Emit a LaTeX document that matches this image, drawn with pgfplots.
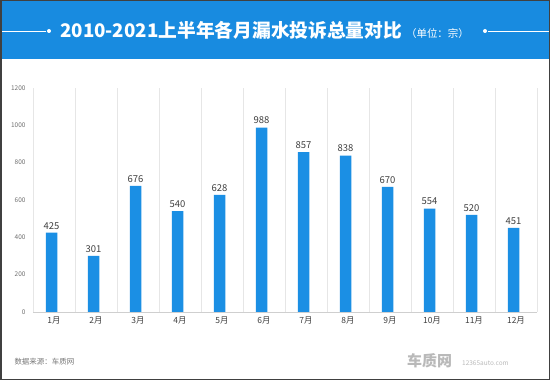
\documentclass[border=0pt]{standalone}
\usepackage{fontspec}
\setmainfont{Noto Sans CJK SC}
\usepackage{pgfplots}
\pgfplotsset{compat=1.18}
\definecolor{bandblue}{RGB}{24,139,224}
\definecolor{barblue}{RGB}{27,143,228}
\definecolor{labelgray}{RGB}{64,64,64}
\definecolor{tickgray}{RGB}{110,110,110}
\definecolor{gridgray}{RGB}{230,230,230}
\definecolor{footgray}{RGB}{120,120,120}
\definecolor{logogray}{RGB}{185,185,185}
\begin{document}
\begin{tikzpicture}
\useasboundingbox (0,0) rectangle (550bp,380bp);
\fill[white] (0,0) rectangle (550bp,380bp);
\fill[bandblue] (0,321bp) rectangle (550bp,380bp);
\draw[white, line width=0.8bp] (0,349bp) -- (46bp,349bp);
\fill[white] (49bp,349bp) circle (2bp);
\fill[white] (485bp,349bp) circle (2bp);
\draw[white, line width=0.8bp] (488bp,349bp) -- (550bp,349bp);
\node[anchor=west, inner sep=0pt, text=white] at (60bp,350bp) {{\bfseries\fontsize{18.8}{19}\selectfont 2010-2021上半年各月漏水投诉总量对比}\hspace{4bp}{\fontsize{10.5}{10.5}\selectfont （单位：宗）}};
\begin{axis}[
  at={(33bp,68bp)}, anchor=south west, scale only axis,
  width=504bp, height=224bp,
  xmin=-0.5, xmax=11.5, ymin=0, ymax=1200,
  ytick={0,200,...,1200},
  xtick={0,...,11},
  xticklabels={1月,2月,3月,4月,5月,6月,7月,8月,9月,10月,11月,12月},
  minor xtick={-0.5,0.5,...,11.5},
  xminorgrids=true,
  minor grid style={gridgray, line width=0.6bp},
  axis x line*=bottom, axis y line*=left,
  x axis line style={draw=gridgray!90!black, line width=0.6bp, -},
  y axis line style={draw=none},
  major tick length=0pt, minor tick length=0pt,
  /pgf/number format/assume math mode=true,
  yticklabel style={font=\fontsize{6.5}{6.5}\selectfont, text=tickgray, xshift=-4bp},
  xticklabel style={font=\fontsize{8.5}{8.5}\selectfont, text=labelgray, yshift=-1bp},
  /pgf/number format/1000 sep={},
  ybar, bar width=11.5bp, bar shift=-2.5bp,
  nodes near coords,
  every node near coord/.append style={font=\fontsize{9.5}{9.5}\selectfont, text=labelgray},
  clip=false,
]
\addplot[fill=barblue, draw=none] coordinates {
(0,425) (1,301) (2,676) (3,540) (4,628) (5,988) (6,857) (7,838) (8,670) (9,554) (10,520) (11,451)};
\end{axis}
\node[anchor=west, text=footgray, font=\fontsize{7.5}{7.5}\selectfont] at (11bp,18bp) {数据来源：车质网};
\node[anchor=west, text=logogray, font=\bfseries\fontsize{15}{15}\selectfont, inner sep=0pt] at (407bp,19bp) {车质网};
\node[anchor=west, text=logogray, font=\fontsize{6.5}{6.5}\selectfont, inner sep=0pt] at (462bp,17bp) {12365auto.com};
\draw[black!75, line width=1.5bp] (0.75bp,0.75bp) rectangle (549.25bp,379.25bp);
\end{tikzpicture}
\end{document}
